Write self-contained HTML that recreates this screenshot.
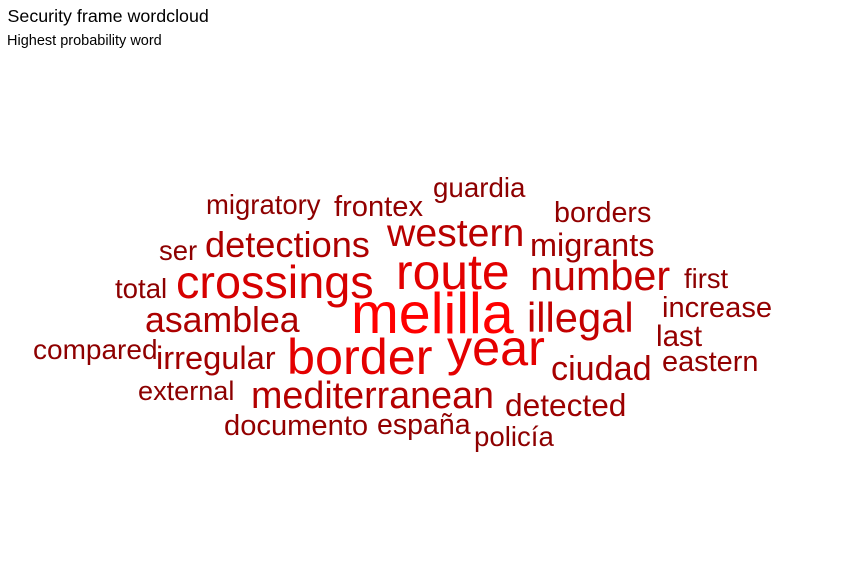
<!DOCTYPE html>
<html>
<head>
<meta charset="utf-8">
<title>Security frame wordcloud</title>
<style>
html,body{margin:0;padding:0;background:#fff;}
svg{display:block;font-family:"Liberation Sans",Arial,sans-serif;}
#cloud text{text-anchor:start;}
</style>
</head>
<body>
<svg id="chart" width="864" height="576" viewBox="0 0 864 576" xmlns="http://www.w3.org/2000/svg">
<rect width="864" height="576" fill="#fff"/>
<text x="7.5" y="22" font-size="17.85" fill="#000">Security frame wordcloud</text>
<text x="7" y="45" font-size="14.5" fill="#000">Highest probability word</text>
<g id="cloud">
<text x="351" y="333">melilla</text>
<text x="396" y="289">route</text>
<text x="447" y="365">year</text>
<text x="287" y="374">border</text>
<text x="176" y="298">crossings</text>
<text x="530" y="290">number</text>
<text x="527" y="332">illegal</text>
<text x="387" y="246">western</text>
<text x="205" y="257">detections</text>
<text x="145" y="332">asamblea</text>
<text x="251" y="408">mediterranean</text>
<text x="551" y="380">ciudad</text>
<text x="505" y="416">detected</text>
<text x="156" y="369">irregular</text>
<text x="530" y="256">migrants</text>
<text x="334" y="216">frontex</text>
<text x="554" y="222">borders</text>
<text x="433" y="197">guardia</text>
<text x="206" y="214">migratory</text>
<text x="159" y="260">ser</text>
<text x="115" y="298">total</text>
<text x="684" y="288">first</text>
<text x="662" y="317">increase</text>
<text x="656" y="346">last</text>
<text x="662" y="371">eastern</text>
<text x="33" y="359">compared</text>
<text x="138" y="400">external</text>
<text x="224" y="435">documento</text>
<text x="377" y="434">españa</text>
<text x="474" y="446">policía</text>
</g>
</svg>
<script>
const words = ["melilla","route","year","border","crossings","number","illegal","western","detections","asamblea","mediterranean","ciudad","detected","irregular","migrants","frontex","borders","guardia","migratory","ser","total","first","increase","last","eastern","compared","external","documento","españa","policía"];
const weights = [1,0.75,0.767,0.767,0.65,0.47,0.483,0.4,0.3,0.283,0.35,0.233,0.15,0.183,0.177,0.067,0.053,0.02,0.013,0.013,0.017,0.01,0.067,0.083,0.06,0.03,0,0.067,0.047,0.017];

function sizeScale(w){ return 27.1 + 30.3 * w; }
function colorScale(w){ return "rgb(" + Math.round(139 + 116 * w) + ",0,0)"; }

const nodes = document.querySelectorAll("#cloud text");
nodes.forEach(function(node){
  const i = words.indexOf(node.textContent);
  node.setAttribute("font-size", sizeScale(weights[i]).toFixed(2));
  node.setAttribute("fill", colorScale(weights[i]));
});
</script>
</body>
</html>
